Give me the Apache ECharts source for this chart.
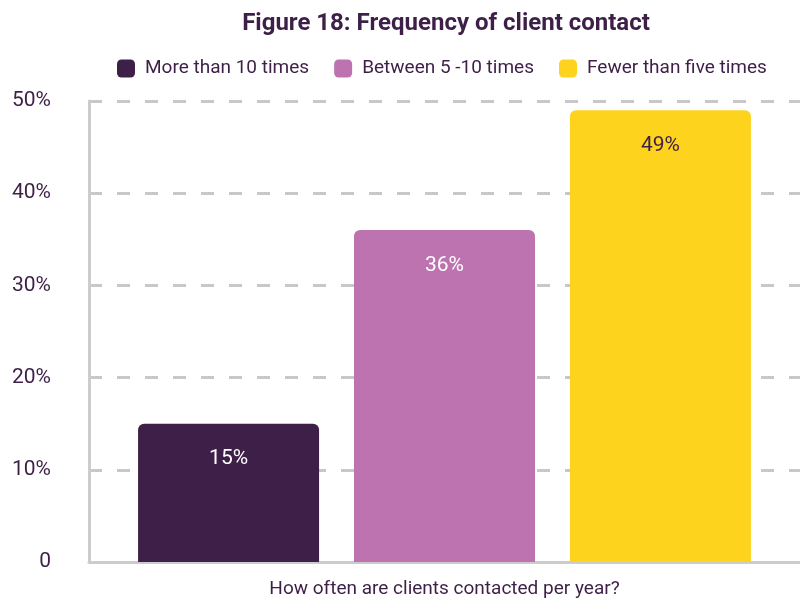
<!DOCTYPE html>
<html>
<head>
<meta charset="utf-8">
<script src="https://cdn.jsdelivr.net/npm/echarts@6/dist/echarts.min.js"></script>
<style>
  html, body { margin: 0; padding: 0; background: #fff; }
  #chart { width: 800px; height: 599px; }
</style>
</head>
<body>
<div id="chart"></div>
<script>
// Frequency of client contact, share of respondents (%)
const categories = ['How often are clients contacted per year?'];
const seriesNames = ['More than 10 times', 'Between 5 -10 times', 'Fewer than five times'];
const seriesValues = [[15], [36], [49]];
const seriesColors = ['#3e1f47', '#bd73af', '#fdd31d'];
const labelColors = ['#ffffff', '#ffffff', '#3e1f47'];
const yTicks = [0, 10, 20, 30, 40, 50];

const textColor = '#3e1f47';
const fontFamily = 'Roboto, "Noto Sans", sans-serif';

const chart = echarts.init(document.getElementById('chart'), null, { renderer: 'canvas' });

const series = seriesNames.map((name, i) => ({
  name: name,
  type: 'bar',
  data: seriesValues[i],
  barWidth: 181,
  barGap: '19.3%',
  itemStyle: { color: seriesColors[i], borderRadius: [6, 6, 0, 0] },
  label: {
    show: true,
    position: 'insideTop',
    distance: 25,
    formatter: '{c}%',
    color: labelColors[i],
    fontSize: 21,
    fontFamily: fontFamily
  }
}));

chart.setOption({
  animation: false,
  textStyle: { fontFamily: fontFamily },
  title: {
    text: 'Figure 18: Frequency of client contact',
    left: 441,
    textAlign: 'center',
    top: 7,
    textStyle: { fontSize: 24, fontWeight: 'bold', color: textColor, fontFamily: fontFamily }
  },
  legend: {
    data: seriesNames,
    top: 54,
    left: 112,
    itemWidth: 18,
    itemHeight: 18,
    itemGap: 25,
    icon: 'roundRect',
    textStyle: { fontSize: 19, color: textColor, fontFamily: fontFamily, padding: [0, 0, 0, 5] }
  },
  grid: { left: 89, right: -4, top: 101, bottom: 37, containLabel: false },
  xAxis: {
    type: 'category',
    data: categories,
    axisLine: { show: true, lineStyle: { color: '#cccccc', width: 3 } },
    axisTick: { show: false },
    axisLabel: {
      show: true,
      margin: 18,
      fontSize: 19,
      color: textColor,
      fontFamily: fontFamily
    }
  },
  yAxis: {
    type: 'value',
    min: yTicks[0],
    max: yTicks[yTicks.length - 1],
    interval: 10,
    axisLine: { show: true, lineStyle: { color: '#cccccc', width: 3 } },
    axisTick: { show: false },
    axisLabel: {
      margin: 38,
      fontSize: 21,
      color: textColor,
      fontFamily: fontFamily,
      formatter: v => (v === 0 ? '0' : v + '%')
    },
    splitLine: {
      show: true,
      lineStyle: { color: '#c8c8c8', width: 3, type: [13, 15] }
    }
  },
  series: series
});
</script>
</body>
</html>
